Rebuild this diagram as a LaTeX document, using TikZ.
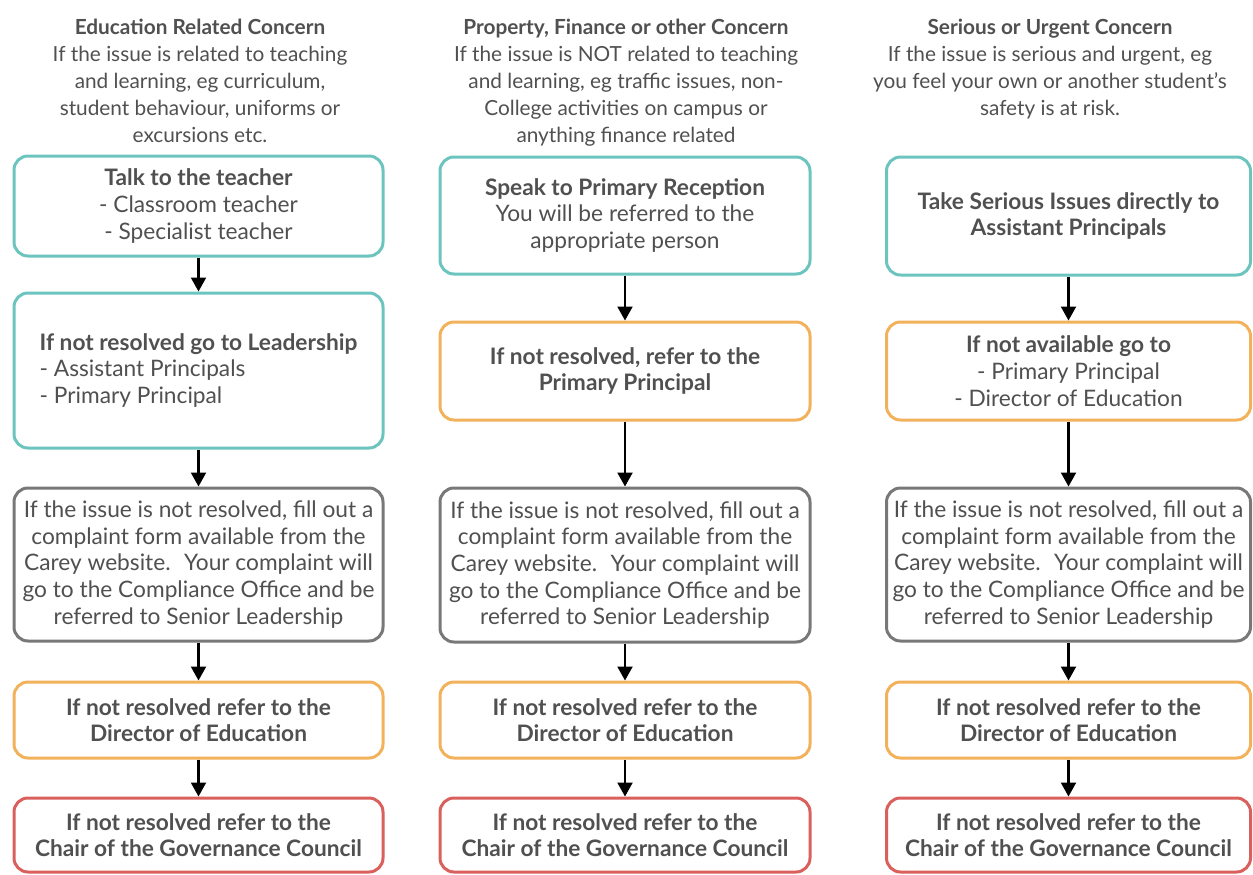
\documentclass[tikz,border=0pt]{standalone}
\usepackage{fontspec}
\setmainfont{Lato}
\usetikzlibrary{arrows.meta}
\definecolor{tealc}{HTML}{6CC4BE}
\definecolor{orangec}{HTML}{F2B25C}
\definecolor{grayc}{HTML}{787878}
\definecolor{redc}{HTML}{D9605C}
\definecolor{textc}{HTML}{505050}

\begin{document}
\begin{tikzpicture}[x=1pt,y=-1pt,
  box/.style={draw, line width=3pt, rounded corners=14pt, fill=white, inner sep=0pt, align=center, text=textc, font=\fontsize{22.7}{26.7}\selectfont},
  head/.style={anchor=north, align=center, inner sep=0pt, text=textc, font=\fontsize{20.8}{27}\selectfont},
  flow/.style={line width=2.2pt, -{Triangle[width=15pt,length=14pt]}}]
\useasboundingbox (0,0) rectangle (1253,875);

% headers
\node[head] (eh) at (200,19) {\textbf{Education Related Concern}\\If the issue is related to teaching\\and learning, eg curriculum,\\student behaviour, uniforms or\\excursions etc.};
\node[head] (ph) at (626,19) {\textbf{Property, Finance or other Concern}\\If the issue is NOT related to teaching\\and learning, eg traffic issues, non-\\College activities on campus or\\anything finance related};
\node[head] (sh) at (1050,19) {\textbf{Serious or Urgent Concern}\\If the issue is serious and urgent, eg\\you feel your own or another student's\\safety is at risk.};

% education column
\node[box, draw=tealc, minimum width=369pt, minimum height=100pt] (e1) at (198.5,206) {\textbf{Talk to the teacher}\\- Classroom teacher\\- Specialist teacher};
\node[box, draw=tealc, minimum width=369pt, minimum height=155pt, align=left] (e2) at (198.5,370.5) {\textbf{If not resolved go to Leadership}\\- Assistant Principals\\- Primary Principal};
\node[box, draw=grayc, minimum width=369pt, minimum height=153pt] (e3) at (198.5,564.5) {If the issue is not resolved, fill out a\\complaint form available from the\\Carey website.~ Your complaint will\\go to the Compliance Office and be\\referred to Senior Leadership};
\node[box, draw=orangec, minimum width=369pt, minimum height=76pt] (e4) at (198.5,720) {\textbf{If not resolved refer to the}\\\textbf{Director of Education}};
\node[box, draw=redc, minimum width=369pt, minimum height=74pt] (e5) at (198.5,835) {\textbf{If not resolved refer to the}\\\textbf{Chair of the Governance Council}};

% property column
\node[box, draw=tealc, minimum width=370pt, minimum height=117pt] (p1) at (625,215.5) {\textbf{Speak to Primary Reception}\\You will be referred to the\\appropriate person};
\node[box, draw=orangec, minimum width=370pt, minimum height=98pt] (p2) at (625,371) {\textbf{If not resolved, refer to the}\\\textbf{Primary Principal}};
\node[box, draw=grayc, minimum width=370pt, minimum height=154pt] (p3) at (625,565) {If the issue is not resolved, fill out a\\complaint form available from the\\Carey website.~ Your complaint will\\go to the Compliance Office and be\\referred to Senior Leadership};
\node[box, draw=orangec, minimum width=370pt, minimum height=76pt] (p4) at (625,720) {\textbf{If not resolved refer to the}\\\textbf{Director of Education}};
\node[box, draw=redc, minimum width=370pt, minimum height=74pt] (p5) at (625,835) {\textbf{If not resolved refer to the}\\\textbf{Chair of the Governance Council}};

% serious column
\node[box, draw=tealc, minimum width=364pt, minimum height=118pt] (s1) at (1068.5,216) {\textbf{Take Serious Issues directly to}\\\textbf{Assistant Principals}};
\node[box, draw=orangec, minimum width=364pt, minimum height=98pt] (s2) at (1068.5,371) {\textbf{If not available go to}\\- Primary Principal\\- Director of Education};
\node[box, draw=grayc, minimum width=364pt, minimum height=153pt] (s3) at (1068.5,564.5) {If the issue is not resolved, fill out a\\complaint form available from the\\Carey website.~ Your complaint will\\go to the Compliance Office and be\\referred to Senior Leadership};
\node[box, draw=orangec, minimum width=364pt, minimum height=76pt] (s4) at (1068.5,720) {\textbf{If not resolved refer to the}\\\textbf{Director of Education}};
\node[box, draw=redc, minimum width=364pt, minimum height=74pt] (s5) at (1068.5,835) {\textbf{If not resolved refer to the}\\\textbf{Chair of the Governance Council}};

\foreach \c in {e,p,s}
{
\foreach \i/\j in {1/2,2/3,3/4,4/5}
\draw [flow] (\c\i) -- (\c\j);
}
\end{tikzpicture}
\end{document}
